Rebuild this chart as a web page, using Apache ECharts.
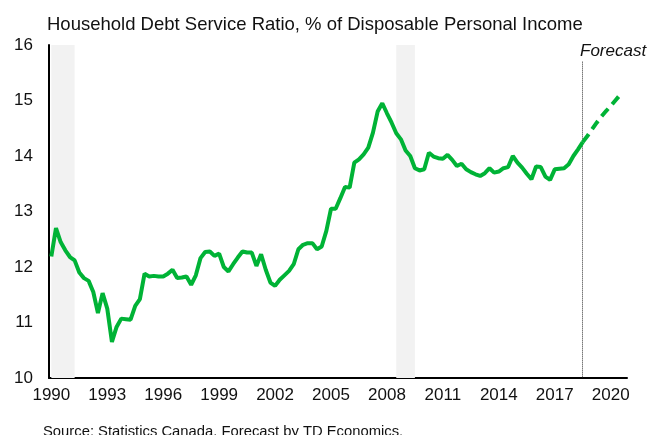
<!DOCTYPE html>
<html>
<head>
<meta charset="UTF-8">
<title>Household Debt Service Ratio</title>
<script src="https://cdn.jsdelivr.net/npm/echarts@6/dist/echarts.min.js"></script>
<style>
body { margin: 0; padding: 0; background: #fff; }
#main { width: 662px; height: 435px; }
</style>
</head>
<body>
<div id="main"></div>
<script>
// quarterly categories 1990Q1 .. 2020Q4
var quarters = [];
for (var y = 1990; y <= 2020; y++) {
    for (var q = 1; q <= 4; q++) quarters.push(y + 'Q' + q);
}

// actual ratio, 1990Q1 .. 2018Q3
var actual = [
    12.19, 12.70, 12.45, 12.30, 12.18, 12.12, 11.90, 11.80,
    11.75, 11.55, 11.17, 11.53, 11.25, 10.65, 10.92, 11.07,
    11.06, 11.05, 11.30, 11.42, 11.88, 11.83, 11.84, 11.83,
    11.83, 11.88, 11.95, 11.80, 11.81, 11.83, 11.68, 11.85,
    12.16, 12.27, 12.28, 12.20, 12.24, 12.00, 11.92, 12.05,
    12.17, 12.28, 12.26, 12.26, 12.02, 12.23, 11.95, 11.72,
    11.66, 11.77, 11.85, 11.93, 12.05, 12.32, 12.40, 12.43,
    12.43, 12.32, 12.37, 12.65, 13.05, 13.05, 13.24, 13.44,
    13.43, 13.88, 13.94, 14.03, 14.15, 14.42, 14.80, 14.95,
    14.77, 14.60, 14.41, 14.30, 14.10, 14.00, 13.78, 13.74,
    13.76, 14.06, 13.99, 13.96, 13.95, 14.02, 13.93, 13.82,
    13.86, 13.76, 13.71, 13.67, 13.64, 13.69, 13.78, 13.70,
    13.72, 13.78, 13.80, 14.00, 13.88, 13.79, 13.68, 13.58,
    13.81, 13.80, 13.63, 13.57, 13.76, 13.77, 13.78, 13.85,
    14.00, 14.12, 14.25
];

// TD forecast, 2018Q3 .. 2020Q3
var forecast = [14.25, 14.36, 14.48, 14.60, 14.71, 14.81, 14.90, 15.00, 15.10];
var forecastStart = '2018Q3';

var recessions = [['1990Q1', '1991Q2'], ['2008Q3', '2009Q3']];
var yTicks = [10, 11, 12, 13, 14, 15, 16];

var forecastData = [];
var startIdx = quarters.indexOf(forecastStart);
for (var i = 0; i < startIdx; i++) forecastData.push(null);
forecastData = forecastData.concat(forecast);

var font = 'Liberation Sans, Arial, sans-serif';
var green = '#00b336';

var myChart = echarts.init(document.getElementById('main'));
var option = {
    animation: false,
    title: [{
        text: 'Household Debt Service Ratio, % of Disposable Personal Income',
        left: 42,
        top: 10,
        textStyle: { fontFamily: font, fontSize: 18.5, fontWeight: 'normal', color: '#111' }
    }, {
        text: 'Forecast',
        left: 575,
        top: 38,
        textStyle: { fontFamily: font, fontSize: 17, fontWeight: 'normal', fontStyle: 'italic', color: '#111' }
    }, {
        text: 'Source: Statistics Canada. Forecast by TD Economics.',
        left: 38,
        top: 419,
        textStyle: { fontFamily: font, fontSize: 14.8, fontWeight: 'normal', color: '#111' }
    }],
    grid: { left: 49, right: 35, top: 45, bottom: 57 },
    xAxis: {
        type: 'category',
        data: quarters,
        boundaryGap: true,
        axisLine: { lineStyle: { color: '#000', width: 2 } },
        axisTick: { show: false },
        axisLabel: {
            interval: 11,
            margin: 9,
            fontFamily: font,
            fontSize: 17,
            color: '#111',
            formatter: function (v) { return v.slice(0, 4); }
        },
        splitLine: { show: false }
    },
    yAxis: {
        type: 'value',
        min: yTicks[0],
        max: yTicks[yTicks.length - 1],
        interval: 1,
        axisLine: { show: true, lineStyle: { color: '#000', width: 2 } },
        axisTick: { show: false },
        axisLabel: { margin: 16, fontFamily: font, fontSize: 17, color: '#111' },
        splitLine: { show: false }
    },
    series: [{
        name: 'Actual',
        type: 'line',
        data: actual,
        showSymbol: false,
        lineStyle: { color: green, width: 4 },
        z: 5,
        markArea: {
            silent: true,
            itemStyle: { color: '#f2f2f2' },
            data: recessions.map(function (r) { return [{ xAxis: r[0] }, { xAxis: r[1] }]; })
        },
        markLine: {
            silent: true,
            symbol: 'none',
            label: { show: false },
            lineStyle: { color: '#333', type: [1, 1], width: 1 },
            data: [[{ coord: [forecastStart, 15.7] }, { coord: [forecastStart, 10] }]]
        }
    }, {
        name: 'Forecast',
        type: 'line',
        data: forecastData,
        showSymbol: false,
        lineStyle: { color: green, width: 4, type: [10, 6] },
        z: 5
    }]
};
myChart.setOption(option);
</script>
</body>
</html>
